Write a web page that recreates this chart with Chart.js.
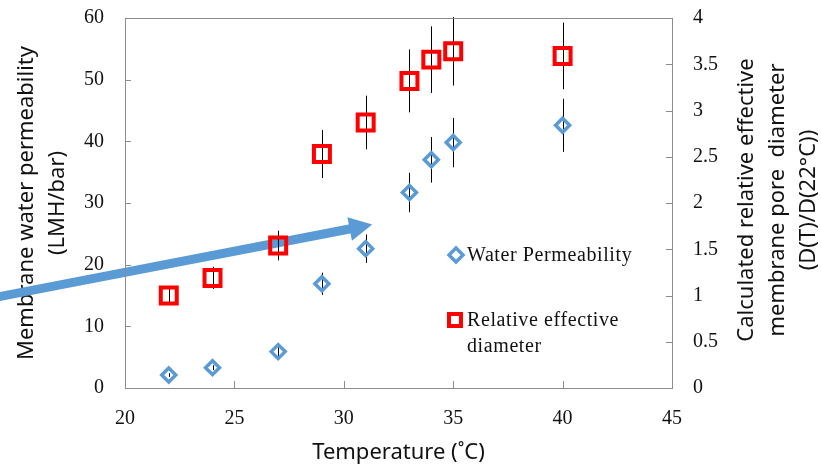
<!DOCTYPE html>
<html>
<head>
<meta charset="utf-8">
<title>Water permeability and pore diameter vs temperature</title>
<script src="https://cdn.jsdelivr.net/npm/chart.js"></script>
<style>
  html, body { margin: 0; padding: 0; background: #fff; }
  #chart { display: block; }
</style>
</head>
<body>
<canvas id="chart" width="821" height="467"></canvas>
<script>
// Temperatures (°C)
const temperatures = [22, 24, 27, 29, 31, 33, 34, 35, 40];
// Membrane water permeability (LMH/bar) and its error
const permeability = [2.1, 3.3, 5.9, 16.9, 22.6, 31.7, 37.0, 39.8, 42.6];
const permeabilityErr = [0.3, 0.4, 0.7, 1.8, 2.3, 3.2, 3.7, 4.0, 4.3];
// Relative effective pore diameter D(T)/D(22°C) and its error
const diameter = [1.0, 1.19, 1.54, 2.53, 2.87, 3.32, 3.55, 3.64, 3.59];
const diameterErr = [0.08, 0.12, 0.16, 0.26, 0.29, 0.34, 0.36, 0.37, 0.36];
// Annotation arrow, in axis units (temperature, permeability)
const arrowStart = [13.5, 14.3];
const arrowEnd = [31.3, 26.5];

const xTicks = { min: 20, max: 45, step: 5 };
const yTicks = { min: 0, max: 60, step: 10 };
const y2Ticks = { min: 0, max: 4, step: 0.5 };

const blue = '#5B9BD5';
const red = '#FF0000';
const serif = "'Liberation Serif', 'Times New Roman', serif";
const sans = "'Noto Sans', 'Open Sans', sans-serif";

document.addEventListener('DOMContentLoaded', function() {
    const ctx = document.getElementById('chart').getContext('2d');

    function drawMarker(c, style, x, y, r, color, width) {
        c.save();
        c.strokeStyle = color;
        c.lineWidth = width;
        c.lineJoin = 'miter';
        c.beginPath();
        if (style === 'diamond') {
            c.moveTo(x - r, y);
            c.lineTo(x, y - r);
            c.lineTo(x + r, y);
            c.lineTo(x, y + r);
            c.closePath();
        } else {
            c.rect(x - r, y - r, 2 * r, 2 * r);
        }
        c.stroke();
        c.restore();
    }

    // no extra label padding: the frame is placed by the layout padding only
    function fitVertical(width) {
        return function(scale) {
            scale.width = width;
            scale.paddingTop = 0;
            scale.paddingBottom = 0;
        };
    }

    const decor = {
        id: 'decor',
        beforeDatasetsDraw(chart) {
            const c = chart.ctx;
            const sx = chart.scales.x, sy = chart.scales.y, sy2 = chart.scales.y2;

            // flèche bleue
            const x0 = sx.getPixelForValue(arrowStart[0]), y0 = sy.getPixelForValue(arrowStart[1]);
            const x1 = sx.getPixelForValue(arrowEnd[0]), y1 = sy.getPixelForValue(arrowEnd[1]);
            const ang = Math.atan2(y1 - y0, x1 - x0);
            const headLen = 23, headHalf = 12;
            const bx = x1 - headLen * Math.cos(ang), by = y1 - headLen * Math.sin(ang);
            c.save();
            c.strokeStyle = blue;
            c.fillStyle = blue;
            c.lineWidth = 9;
            c.beginPath();
            c.moveTo(x0, y0);
            c.lineTo(bx + Math.cos(ang), by + Math.sin(ang));
            c.stroke();
            c.beginPath();
            c.moveTo(x1, y1);
            c.lineTo(bx + headHalf * Math.sin(ang), by - headHalf * Math.cos(ang));
            c.lineTo(bx - headHalf * Math.sin(ang), by + headHalf * Math.cos(ang));
            c.closePath();
            c.fill();
            c.restore();

            // barres d'erreur
            c.save();
            c.strokeStyle = '#000';
            c.lineWidth = 1;
            temperatures.forEach((t, i) => {
                const px = Math.round(sx.getPixelForValue(t)) + 0.5;
                c.beginPath();
                c.moveTo(px, sy.getPixelForValue(permeability[i] - permeabilityErr[i]));
                c.lineTo(px, sy.getPixelForValue(permeability[i] + permeabilityErr[i]));
                c.moveTo(px, sy2.getPixelForValue(diameter[i] - diameterErr[i]));
                c.lineTo(px, sy2.getPixelForValue(diameter[i] + diameterErr[i]));
                c.stroke();
            });
            c.restore();
        },
        afterDraw(chart) {
            const c = chart.ctx;
            const a = chart.chartArea;
            const sx = chart.scales.x, sy = chart.scales.y, sy2 = chart.scales.y2;

            // cadre et graduations intérieures
            c.save();
            c.strokeStyle = '#8C8C8C';
            c.lineWidth = 1;
            c.strokeRect(Math.round(a.left) + 0.5, Math.round(a.top) + 0.5,
                Math.round(a.right - a.left), Math.round(a.bottom - a.top));
            c.beginPath();
            sx.ticks.forEach(tk => {
                const px = Math.round(sx.getPixelForValue(tk.value)) + 0.5;
                c.moveTo(px, a.bottom);
                c.lineTo(px, a.bottom - 7);
            });
            sy.ticks.forEach(tk => {
                const py = Math.round(sy.getPixelForValue(tk.value)) + 0.5;
                c.moveTo(a.left, py);
                c.lineTo(a.left + 6, py);
            });
            sy2.ticks.forEach(tk => {
                const py = Math.round(sy2.getPixelForValue(tk.value)) + 0.5;
                c.moveTo(a.right, py);
                c.lineTo(a.right - 6, py);
            });
            c.stroke();
            c.restore();

            // légende dans la zone du graphique
            drawMarker(c, 'diamond', a.left + 331, 255, 7, blue, 3.5);
            drawMarker(c, 'square', a.left + 330, 320, 6, red, 4);
            c.save();
            c.fillStyle = '#111';
            c.font = '20px ' + serif;
            c.letterSpacing = '0.6px';
            c.textAlign = 'left';
            c.textBaseline = 'middle';
            c.fillText('Water Permeability', a.left + 342, 256);
            c.fillText('Relative effective', a.left + 342, 321);
            c.fillText('diameter', a.left + 342, 347);
            c.restore();

            // titre de l'axe de droite (texte tourné vers le haut)
            const lines = ['Calculated relative effective', 'membrane pore  diameter', '(D(T)/D(22°C))'];
            c.save();
            c.fillStyle = '#111';
            c.font = '22px ' + sans;
            c.textAlign = 'center';
            c.textBaseline = 'middle';
            lines.forEach((txt, i) => {
                c.save();
                c.translate(a.right + 75 + i * 31, 200);
                c.rotate(-Math.PI / 2);
                c.fillText(txt, 0, 0);
                c.restore();
            });
            c.restore();
        }
    };

    new Chart(ctx, {
        type: 'scatter',
        data: {
            datasets: [{
                label: 'Water Permeability',
                data: temperatures.map((t, i) => ({ x: t, y: permeability[i] })),
                yAxisID: 'y',
                pointStyle: 'rectRot',
                pointRadius: 7,
                pointBorderWidth: 3.5,
                borderColor: blue,
                backgroundColor: 'rgba(255,255,255,0)',
                showLine: false
            }, {
                label: 'Relative effective diameter',
                data: temperatures.map((t, i) => ({ x: t, y: diameter[i] })),
                yAxisID: 'y2',
                pointStyle: 'rect',
                pointRadius: 11.3,
                pointBorderWidth: 4,
                borderColor: red,
                backgroundColor: 'rgba(255,255,255,0)',
                showLine: false
            }]
        },
        options: {
            responsive: false,
            animation: false,
            events: [],
            layout: { padding: { top: 18, left: 0, right: 0, bottom: 0 } },
            scales: {
                x: {
                    type: 'linear',
                    position: 'bottom',
                    min: xTicks.min,
                    max: xTicks.max,
                    afterFit: function(scale) {
                        scale.height = 79;
                        scale.paddingLeft = 0;
                        scale.paddingRight = 0;
                    },
                    ticks: {
                        stepSize: xTicks.step,
                        padding: 19,
                        maxRotation: 0,
                        color: '#111',
                        font: { family: serif, size: 20 }
                    },
                    grid: { display: false, drawTicks: false },
                    border: { display: false },
                    title: {
                        display: true,
                        text: 'Temperature (˚C)',
                        color: '#111',
                        font: { family: sans, size: 22 },
                        padding: { top: 0, bottom: 1 }
                    }
                },
                y: {
                    type: 'linear',
                    position: 'left',
                    min: yTicks.min,
                    max: yTicks.max,
                    afterFit: fitVertical(125),
                    ticks: {
                        stepSize: yTicks.step,
                        padding: 21,
                        color: '#111',
                        font: { family: serif, size: 20 }
                    },
                    grid: { display: false, drawTicks: false },
                    border: { display: false },
                    title: {
                        display: true,
                        text: ['Membrane water permeability', '(LMH/bar)'],
                        color: '#111',
                        font: { family: sans, size: 22, lineHeight: 1.41 },
                        padding: { top: 11, bottom: 0 }
                    }
                },
                y2: {
                    type: 'linear',
                    position: 'right',
                    min: y2Ticks.min,
                    max: y2Ticks.max,
                    afterFit: fitVertical(149),
                    ticks: {
                        stepSize: y2Ticks.step,
                        padding: 21,
                        color: '#111',
                        font: { family: serif, size: 20 },
                        callback: v => String(v)
                    },
                    grid: { display: false, drawTicks: false },
                    border: { display: false }
                }
            },
            plugins: {
                legend: { display: false },
                tooltip: { enabled: false }
            }
        },
        plugins: [decor]
    });
});
</script>
</body>
</html>
